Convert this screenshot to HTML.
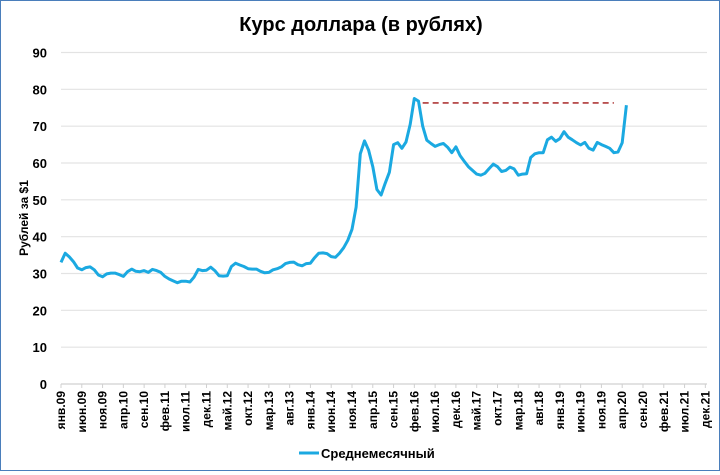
<!DOCTYPE html>
<html><head><meta charset="utf-8"><style>
body{margin:0;background:#fff}
#wrap{position:relative;width:718px;height:469px;border:1px solid #4a7ebb;background:#fff;font-family:"Liberation Sans","DejaVu Sans",sans-serif}
</style></head><body>
<div id="wrap">
<svg id="svg" width="718" height="469">
<text x="360" y="30" text-anchor="middle" font-size="20" font-weight="bold" fill="#000">Курс доллара (в рублях)</text>
<text transform="translate(27,217) rotate(-90)" text-anchor="middle" font-size="12" font-weight="bold">Рублей за $1</text>
<g id="grid"></g><g id="xt"></g><g id="yt"></g><g id="series"></g>
<g>
<line x1="298" y1="452" x2="318" y2="452" stroke="#1ba9e1" stroke-width="3"/>
<text x="320" y="457" font-size="13" font-weight="bold">Среднемесячный</text>
</g>
</svg></div>
<script>
const monthNames=["янв","фев","мар","апр","май","июн","июл","авг","сен","окт","ноя","дек"];
const yTicks=[0,10,20,30,40,50,60,70,80,90];
const rates=[33.0,35.5,34.5,33.2,31.5,31.0,31.6,31.8,31.0,29.6,29.1,29.9,
30.1,30.1,29.7,29.2,30.5,31.2,30.6,30.5,30.8,30.3,31.1,30.8,
30.3,29.2,28.5,28.0,27.5,27.9,27.9,27.7,29.0,31.1,30.8,30.9,31.7,
30.8,29.4,29.3,29.4,31.9,32.8,32.3,31.9,31.3,31.2,31.2,
30.6,30.2,30.3,31.0,31.3,31.8,32.7,33.0,33.1,32.4,32.1,32.7,32.8,
34.3,35.5,35.6,35.4,34.6,34.4,35.5,37.0,39.0,42.0,48.0,62.5,
66.0,63.5,59.0,52.8,51.3,54.5,57.5,65.0,65.5,64.0,65.7,70.5,
77.5,76.8,70.0,66.2,65.3,64.5,65.0,65.3,64.3,62.8,64.4,62.0,
60.5,59.0,58.0,57.0,56.7,57.2,58.5,59.7,59.0,57.7,58.0,58.9,58.4,
56.7,57.0,57.1,61.5,62.5,62.8,62.8,66.3,67.0,65.9,66.6,68.5,
67.0,66.3,65.5,64.9,65.6,64.0,63.5,65.6,65.0,64.5,64.0,62.8,
63.0,65.5,75.7];
const nMonths=156;
const x0=60,x1=706,y0=383,y1=51.5;
const X=i=>x0+i*(x1-x0)/(nMonths-0.6);
const Y=v=>y0-(v/90)*(y0-y1);
const NS="http://www.w3.org/2000/svg";
function mk(t,a,p){const e=document.createElementNS(NS,t);for(const k in a)e.setAttribute(k,a[k]);p.appendChild(e);return e;}
const grid=document.getElementById('grid'),yt=document.getElementById('yt'),xt=document.getElementById('xt'),ser=document.getElementById('series');
yTicks.forEach(v=>{
 const l=mk('line',{x1:x0,x2:x1,y1:Y(v),y2:Y(v),stroke:v?'#e3e3e3':'#d0d0d0','stroke-width':1.2},grid);
 
 
 const t=mk('text',{x:46,y:Y(v)+5,'text-anchor':'end','font-size':13,'font-weight':'bold'},yt);
 t.textContent=v;
 
 
});
for(let i=0;i<nMonths;i+=5){
 const yr=String(9+Math.floor(i/12)).padStart(2,'0');
 const lab=monthNames[i%12]+'.'+yr;
 const tk=mk('line',{x1:X(i),x2:X(i),y1:y0,y2:y0+4,stroke:'#d0d0d0'},xt);
 
 
 const t=mk('text',{transform:`translate(${X(i)+4},390) rotate(-90)`,'text-anchor':'end','font-size':12,'font-weight':'bold'},xt);
 t.textContent=lab;
 
 
}
const pts=rates.map((v,i)=>X(i).toFixed(1)+','+Y(v).toFixed(1)).join(' ');
const pl=mk('polyline',{points:pts,fill:'none',stroke:'#1ba9e1','stroke-width':3,'stroke-linejoin':'round'},ser);


const peak=Math.max(...rates.slice(80,90));
const dl=mk('line',{x1:X(87),x2:X(133),y1:Y(76.3),y2:Y(76.3),stroke:'#a01515','stroke-width':1.3,'stroke-dasharray':'6,4'},ser);


</script>
</body></html>
